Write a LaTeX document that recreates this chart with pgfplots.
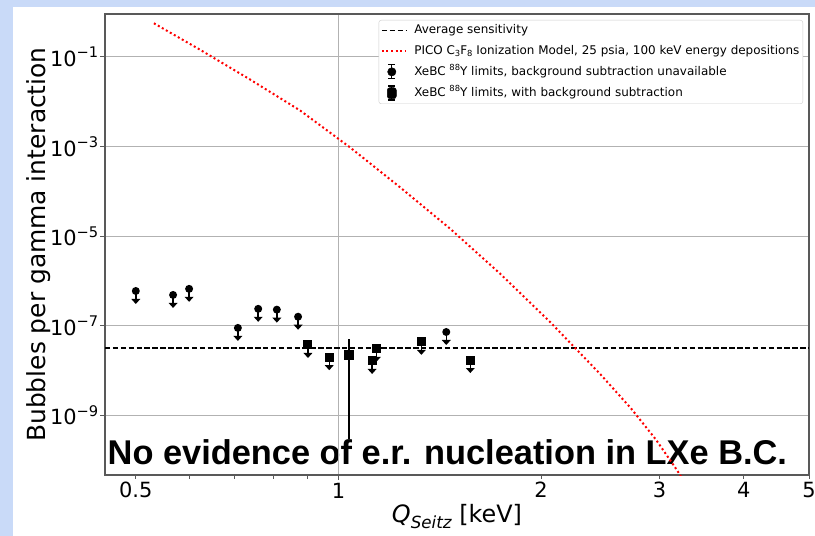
\documentclass[border=0pt]{standalone}
\usepackage{pgfplots}
\pgfplotsset{compat=1.18}
\usepackage{fontspec}
\setmainfont{DejaVu Sans}
\newfontfamily\lsans{Liberation Sans}
\definecolor{slidebg}{RGB}{201,218,248}
\newcommand\sups[1]{\raisebox{0.40em}{\scalebox{0.7}{#1}}}
\newcommand\subs[1]{\raisebox{-0.22em}{\scalebox{0.7}{#1}}}

% upper-limit marks: marker + stem + downward arrowhead
\pgfdeclareplotmark{ulcirc}{%
  \pgfpathcircle{\pgfpointorigin}{4bp}\pgfusepathqfill
  \pgfsetlinewidth{1.4bp}\pgfsetbuttcap
  \pgfpathmoveto{\pgfpointorigin}\pgfpathlineto{\pgfpoint{0bp}{-8.5bp}}\pgfusepathqstroke
  \pgfpathmoveto{\pgfpoint{-4.5bp}{-8bp}}\pgfpathlineto{\pgfpoint{4.5bp}{-8bp}}%
  \pgfpathlineto{\pgfpoint{0bp}{-13bp}}\pgfpathclose\pgfusepathqfill}
\pgfdeclareplotmark{ulsq}{%
  \pgfpathrectangle{\pgfpoint{-4.5bp}{-4.5bp}}{\pgfpoint{9bp}{9bp}}\pgfusepathqfill
  \pgfsetlinewidth{1.4bp}\pgfsetbuttcap
  \pgfpathmoveto{\pgfpointorigin}\pgfpathlineto{\pgfpoint{0bp}{-8.5bp}}\pgfusepathqstroke
  \pgfpathmoveto{\pgfpoint{-4.5bp}{-8bp}}\pgfpathlineto{\pgfpoint{4.5bp}{-8bp}}%
  \pgfpathlineto{\pgfpoint{0bp}{-13bp}}\pgfpathclose\pgfusepathqfill}

\pgfplotstableread{
x y
0.500 6.0e-7
0.568 4.9e-7
0.600 6.7e-7
0.709 9.0e-8
0.760 2.4e-7
0.810 2.3e-7
0.871 1.6e-7
1.446 7.3e-8
}\circlim
\pgfplotstableread{
x y
0.901 3.75e-8
0.969 2.0e-8
1.122 1.65e-8
1.138 3.05e-8
1.328 4.4e-8
1.570 1.73e-8
}\sqlim
\pgfplotstableread{
x y
0.532 0.565
0.622 0.147
0.739 3.15e-2
0.877 6.4e-3
1.041 9.55e-4
1.236 1.22e-4
1.467 1.45e-5
1.741 1.43e-6
2.066 1.19e-7
2.452 8.18e-9
2.718 1.46e-9
2.960 2.94e-10
3.181 6.14e-11
3.337 1.95e-11
}\pico

\begin{document}
\begin{tikzpicture}
\path[use as bounding box] (0,0) rectangle (815bp,536bp);
\fill[slidebg] (0,0) rectangle (815bp,536bp);
\fill[white] (13bp,0) rectangle (815bp,529bp);
\node[anchor=base west, inner sep=0pt, font=\lsans\bfseries\fontsize{34.5}{34.5}\selectfont] at (107.5bp,71bp) {No evidence of e.r. nucleation in LXe B.C.};
\begin{axis}[
  at={(105bp,61bp)}, anchor=south west,
  scale only axis, width=704bp, height=461bp,
  xmode=log, ymode=log,
  xmin=0.45, xmax=5.0, ymin=4.7e-11, ymax=0.91,
  axis line style={black!65, line width=1.1bp},
  tick align=outside, tick pos=left,
  xtick={1}, xticklabels={1},
  extra x ticks={0.5,2,3,4,5}, extra x tick labels={0.5,2,3,4,5},
  extra x tick style={grid=none, major tick length=3.5bp},
  minor xtick={0.6,0.7,0.8,0.9},
  ytick={1e-9,1e-7,1e-5,1e-3,1e-1},
  yticklabels={10\sups{−9},10\sups{−7},10\sups{−5},10\sups{−3},10\sups{−1}},
  major tick length=5bp, minor tick length=3.5bp,
  tick style={black!65, line width=1bp},
  xmajorgrids, ymajorgrids,
  grid style={gray!60, line width=1bp},
  /pgf/number format/assume math mode=true,
  ticklabel style={font=\fontsize{21}{21}\selectfont},
  yticklabel style={inner sep=1.5bp},
  xlabel={{\itshape Q\subs{Seitz}} [keV]},
  xlabel style={font=\fontsize{24}{24}\selectfont, at={(axis description cs:0.5,-0.1041)}, anchor=base},
  ylabel={Bubbles per gamma interaction},
  ylabel style={font=\fontsize{25}{25}\selectfont, at={(axis description cs:-0.0852,0.5)}, anchor=base},
  legend cell align=left,
  legend style={at={(axis description cs:0.9915,0.987)}, anchor=north east,
    draw=black!20, rounded corners=2.5bp, fill=white,
    font=\fontsize{12}{13}\selectfont,
    inner xsep=2bp, inner ysep=3bp, row sep=6bp,
    nodes={inner sep=1.5bp, text height=9bp, text depth=2.5bp},
    /tikz/every odd column/.append style={column sep=6bp}},
  legend image code/.code={\draw[#1] (0bp,0bp) -- (24bp,0bp);},
]
\addplot[black, line width=1.5bp, dash pattern=on 5.5bp off 2.4bp] coordinates {(0.45,3.2e-8) (5.0,3.2e-8)};
\addlegendentry{Average sensitivity}
\addplot[red, line width=2bp, dash pattern=on 2bp off 2.6bp] table[x=x,y=y] {\pico};
\addlegendentry{PICO C\subs{3}F\subs{8} Ionization Model, 25 psia, 100 keV energy depositions}
\addplot[only marks, black, mark=ulcirc, mark options={fill=black, draw=black},
  legend image code/.code={
    \draw[black, line width=1.3bp] (10bp,-7bp) -- (10bp,7bp);
    \draw[black, line width=1.3bp] (6.5bp,-7bp) -- (13.5bp,-7bp) (6.5bp,7bp) -- (13.5bp,7bp);
    \fill[black] (10bp,0bp) circle (4.2bp);}]
  table[x=x,y=y] {\circlim};
\addlegendentry{XeBC \sups{88}Y limits, background subtraction unavailable}
\addplot[only marks, black, mark=ulsq, mark options={fill=black, draw=black},
  legend image code/.code={
    \draw[black, line width=1.3bp] (10bp,-7bp) -- (10bp,7bp);
    \draw[black, line width=1.3bp] (6.5bp,-7bp) -- (13.5bp,-7bp) (6.5bp,7bp) -- (13.5bp,7bp);
    \fill[black] (5.5bp,-5.5bp) rectangle (14.5bp,5.5bp);}]
  table[x=x,y=y] {\sqlim};
\addlegendentry{XeBC \sups{88}Y limits, with background subtraction}
\addplot[only marks, black, mark=square*, mark size=4.5bp, forget plot,
  error bars/.cd, y dir=both, y explicit, error mark=none,
  error bar style={line width=1.5bp, black}]
  coordinates {(1.037,2.24e-8) +=(0,2.86e-8) -=(0,2.21e-8)};
\end{axis}
\end{tikzpicture}
\end{document}
